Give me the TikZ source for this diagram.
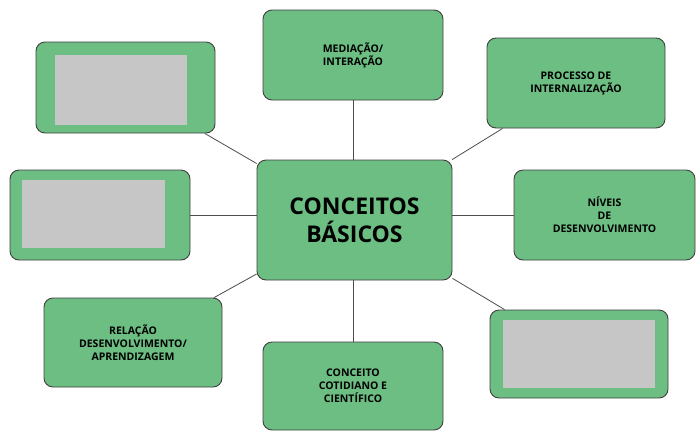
\documentclass[tikz,border=0pt]{standalone}
\usepackage{fontspec}
\setmainfont{Open Sans}
\begin{document}
\begin{tikzpicture}[x=1pt,y=-1pt,
  box/.style={draw=black!75,line width=0.9pt,fill=boxg,rounded corners=9pt,align=center,font=\bfseries\fontsize{10.5}{13}\selectfont,inner sep=0pt},
  gray/.style={fill=gray!45,draw=none,inner sep=0pt},
  con/.style={draw=black!70,line width=0.8pt}]
\definecolor{boxg}{RGB}{108,190,130}
\useasboundingbox (0,0) rectangle (698,437);
\node[box,minimum width=195pt,minimum height=120pt,font=\bfseries\fontsize{23}{28}\selectfont] (c) at (354.5,220) {CONCEITOS\\BÁSICOS};
\node[box,minimum width=180pt,minimum height=90pt] (t) at (353,55) {MEDIAÇÃO/\\INTERAÇÃO};
\node[box,minimum width=178pt,minimum height=90pt] (tr) at (576,83) {PROCESSO DE\\INTERNALIZAÇÃO};
\node[box,minimum width=181pt,minimum height=90pt] (r) at (604.5,215) {NÍVEIS\\DE\\DESENVOLVIMENTO};
\node[box,minimum width=178pt,minimum height=88pt] (br) at (579,354) {};
\node[gray,minimum width=152pt,minimum height=68pt] at (579,354) {};
\node[box,minimum width=180pt,minimum height=88pt] (b) at (353,386) {CONCEITO\\COTIDIANO E\\CIENTÍFICO};
\node[box,minimum width=178pt,minimum height=89pt] (bl) at (133,342.5) {RELAÇÃO\\DESENVOLVIMENTO/\\APRENDIZAGEM};
\node[box,minimum width=180pt,minimum height=90pt] (l) at (100,215) {};
\node[gray,minimum width=143pt,minimum height=68pt] at (93.5,214) {};
\node[box,minimum width=179pt,minimum height=91pt] (tl) at (125.5,87.5) {};
\node[gray,minimum width=132pt,minimum height=70pt] at (121,90) {};
\draw[con] (c.north -| t) -- (t);
\draw[con] (c.south -| b) -- (b);
\draw[con] (c.east |- r) -- (r);
\draw[con] (c.west |- l) -- (l);
\draw[con] (c) -- (tr);
\draw[con] (c) -- (br);
\draw[con] (c) -- (bl);
\draw[con] (c) -- (tl);
\end{tikzpicture}
\end{document}
